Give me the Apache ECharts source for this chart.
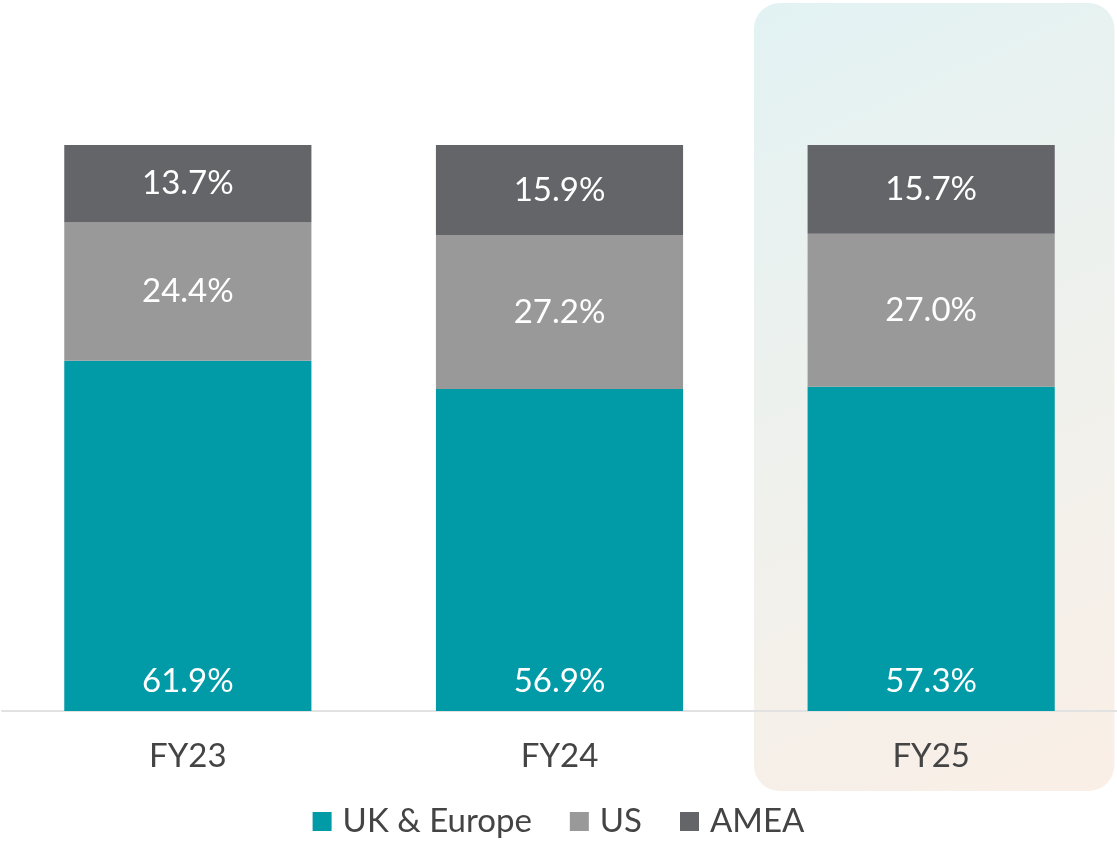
<!DOCTYPE html>
<html>
<head>
<meta charset="utf-8">
<script src="https://cdn.jsdelivr.net/npm/echarts@6/dist/echarts.min.js"></script>
<style>
  html, body { margin: 0; padding: 0; background: #fff; }
  #myChart { width: 1117px; height: 845px; }
</style>
</head>
<body>
<div id="myChart"></div>
<script>
// 数据
var categories = ['FY23', 'FY24', 'FY25'];
var ukEurope = [61.9, 56.9, 57.3];
var us = [24.4, 27.2, 27.0];
var amea = [13.7, 15.9, 15.7];
var seriesNames = ['UK & Europe', 'US', 'AMEA'];
var colorList = ['#009ba7', '#99999a', '#646569'];
var highlightIndex = 2;

var fontFamily = 'Lato, "Open Sans", sans-serif';

function pct(p) {
  return p.value.toFixed(1) + '%';
}

var myChart = echarts.init(document.getElementById('myChart'));

myChart.setOption({
  animation: false,
  color: colorList,
  grid: { left: 2, right: 0, top: 145, bottom: 134 },
  legend: {
    bottom: 2,
    left: 'center',
    icon: 'rect',
    itemWidth: 19,
    itemHeight: 19,
    itemGap: 38,
    textStyle: { color: '#444', fontSize: 33, fontFamily: fontFamily, padding: [0, 0, 0, 6] },
    data: seriesNames
  },
  xAxis: {
    type: 'category',
    data: categories,
    axisLine: { lineStyle: { color: '#e2e2e2', width: 2 } },
    axisTick: { show: false },
    axisLabel: { color: '#444', fontSize: 33, fontFamily: fontFamily, margin: 29 }
  },
  yAxis: { type: 'value', min: 0, max: 100, show: false },
  series: [
    {
      name: seriesNames[0], type: 'bar', stack: 'total', barWidth: '66.5%', data: ukEurope,
      label: { show: true, position: 'insideBottom', distance: 13, color: '#fff', fontSize: 33, fontFamily: fontFamily, formatter: pct }
    },
    {
      name: seriesNames[1], type: 'bar', stack: 'total', data: us,
      label: { show: true, position: 'inside', color: '#fff', fontSize: 33, fontFamily: fontFamily, formatter: pct }
    },
    {
      name: seriesNames[2], type: 'bar', stack: 'total', data: amea,
      label: { show: true, position: 'inside', color: '#fff', fontSize: 33, fontFamily: fontFamily, formatter: pct }
    }
  ]
});

// 高亮 FY25 的背景框
var cx = myChart.convertToPixel({ xAxisIndex: 0 }, categories[highlightIndex]);
var band = myChart.convertToPixel({ xAxisIndex: 0 }, categories[1]);
var step = cx - band;
var boxW = step * 0.97;
myChart.setOption({
  graphic: [{
    type: 'rect',
    z: -10,
    silent: true,
    shape: { x: cx - boxW / 2 + 3, y: 3, width: boxW, height: 788, r: 26 },
    style: {
      fill: new echarts.graphic.LinearGradient(0, 0, 1, 1, [
        { offset: 0, color: '#e2f2f3' },
        { offset: 0.5, color: '#eff1ed' },
        { offset: 1, color: '#faefe6' }
      ])
    }
  }]
});
</script>
</body>
</html>
